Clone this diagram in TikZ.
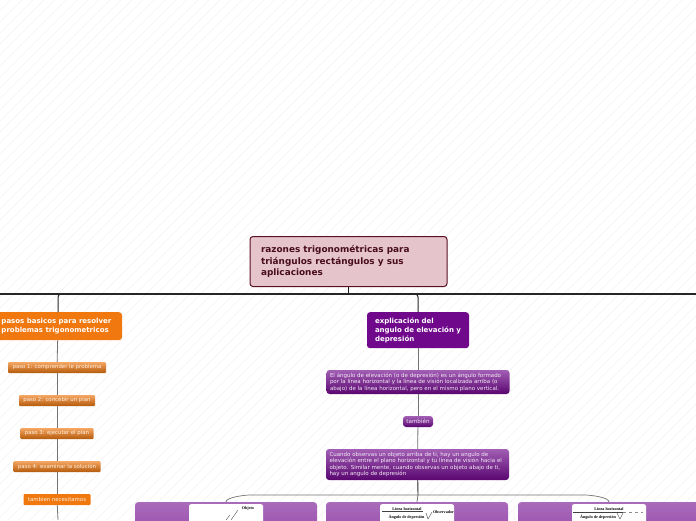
\documentclass[tikz,border=0pt]{standalone}
\usepackage{fontspec}
\setmainfont{DejaVu Sans}
\newfontfamily\imgfont{Liberation Serif}
\usepackage{xcolor}
\usetikzlibrary{positioning, arrows.meta, calc}
\definecolor{rootfill}{HTML}{E5C5CB}
\definecolor{rootline}{HTML}{5A0F24}
\definecolor{naranja}{HTML}{F0780F}
\definecolor{morado}{HTML}{70088C}
\definecolor{hatch}{HTML}{F1F1F1}
\tikzset{
    raiz/.style={draw=rootline, line width=1pt, fill=rootfill, rounded corners=3pt, anchor=north,
        minimum width=197pt, minimum height=50pt, inner sep=0pt, text=rootline!80!black,
        font=\fontsize{8.9}{11.2}\selectfont\bfseries, align=left},
    jefe/.style={rounded corners=3pt, text=white, inner sep=0pt, align=left,
        font=\fontsize{7}{9}\selectfont\bfseries},
    pasobox/.style={rounded corners=1pt, text=white!88!orange, inner sep=0pt, minimum height=11pt,
        top color=#1!65!white, bottom color=#1!75!black, font=\fontsize{5.4}{7}\selectfont},
    parrafo/.style={rounded corners=3pt, text=white!92!morado, inner sep=0pt, align=left,
        top color=morado!65!white, bottom color=morado!80!black, font=\fontsize{5.5}{6.4}\selectfont},
    cajafoto/.style={rounded corners=3pt, anchor=north, minimum width=182pt, minimum height=40pt,
        top color=morado!60!white, bottom color=morado!75!white},
    foto/.style={fill=white, rounded corners=2pt, anchor=north, minimum width=74pt, minimum height=40pt, inner sep=0pt},
    mini/.style={font=\imgfont\fontsize{4.1}{4.5}\selectfont\bfseries, inner sep=0pt},
    trazo/.style={line width=0.35pt, black!75},
    rama/.style={line width=0.8pt, black!55},
    bus/.style={line width=1.1pt, black!85}
}
\begin{document}
\begin{tikzpicture}[x=1pt, y=1pt, node distance=33pt]
    \useasboundingbox (0,0) rectangle (696,-520);
    \clip (0,0) rectangle (696,-520);
    \foreach \k in {0,11,...,1220} {
        \draw[hatch, line width=0.4pt] (\k-520,-520) -- (\k,0);
    }

    \node (raiz) [raiz] at (348.5,-236) {\hspace{5pt}\parbox{180pt}{razones trigonométricas para\\triángulos rectángulos y sus\\aplicaciones}};
    \coordinate (busizq) at (0,-294);
    \coordinate (busder) at (696,-294);
    \coordinate (buscentro) at (348.5,-294);

    % rama izquierda
    \node (pasos) [jefe, fill=naranja, anchor=north, minimum width=128pt, minimum height=28pt] at (58,-312) {\hspace{7pt}\parbox{120pt}{pasos basicos para resolver\\problemas trigonometricos}};
    \node (paso1) [pasobox=naranja, minimum width=98pt] at (57,-367.5) {paso 1: comprender le problema};
    \node (paso2) [pasobox=naranja, minimum width=76pt, below of=paso1] {paso 2: concebir un plan};
    \node (paso3) [pasobox=naranja, minimum width=73pt, below of=paso2] {paso 3: ejecutar el plan};
    \node (paso4) [pasobox=naranja, minimum width=87pt, below of=paso3] {paso 4: examinar la solución};
    \node (tambien1) [rounded corners=1pt, fill=naranja, text=white!88!orange, inner sep=0pt, minimum height=11pt, minimum width=67pt, font=\fontsize{5.4}{7}\selectfont, below of=paso4] {tambien necesitamos};
    \coordinate (finizq) at (58,-520);

    % rama central
    \node (explica) [jefe, fill=morado, anchor=north, minimum width=102pt, minimum height=36pt] at (418,-312) {\parbox{86pt}{explicación del\\angulo de elevación y\\depresión}};
    \node (def) [parrafo, minimum width=183pt, minimum height=24pt] at (418,-382) {\parbox{176pt}{El ángulo de elevación (o de depresión) es un ángulo formado\\por la línea horizontal y la línea de visión localizada arriba (o\\abajo) de la línea horizontal, pero en el mismo plano vertical.}};
    \node (tambien2) [parrafo, minimum width=30pt, minimum height=11pt, font=\fontsize{5.6}{7}\selectfont] at (418,-421.5) {también};
    \node (cuando) [parrafo, minimum width=183pt, minimum height=31pt] at (417.5,-464.5) {\parbox{176pt}{Cuando observas un objeto arriba de ti, hay un angulo de\\elevación entre el plano horizontal y tu línea de visión hacia el\\objeto. Similar mente, cuando observas un objeto abajo de ti,\\hay un angulo de depresión}};
    \coordinate (ramal) at (418,-495);

    \node (caja1) [cajafoto] at (226,-502) {};
    \node (caja2) [cajafoto] at (417,-502) {};
    \node (caja3) [cajafoto] at (609,-502) {};
    \node (foto1) [foto] at (226,-504) {};
    \node (foto2) [foto] at (417,-504) {};
    \node (foto3) [foto] at (609,-504) {};

    \node (objeto) [mini] at (248,-509) {Objeto};
    \draw[trazo] (238,-510) -- (231,-520);
    \draw[trazo] (230,-515) -- (226,-520);

    \node (linea2) [mini] at (407,-509) {Línea horizontal};
    \node (observa) [mini] at (443.5,-512) {Observador};
    \node (angulo2) [mini] at (406.5,-517) {Ángulo de depresión};
    \draw[trazo] (382,-511) -- (423,-511);
    \draw[trazo] (426,-513) -- (428,-519) -- (432,-512);

    \node (linea3) [mini] at (609,-509) {Línea horizontal};
    \node (angulo3) [mini] at (598,-517) {Ángulo de depresión};
    \draw[trazo] (573,-512) -- (623,-512);
    \draw[trazo, black!45, dashed] (623,-512) -- (643,-512);
    \draw[trazo] (617,-513) -- (620,-519) -- (623,-513);

    % conectores
    \draw[bus] (busizq) -- (busder);
    \draw[line width=1.8pt, black!90] (raiz) -- (buscentro);
    \draw[line width=1pt, black!85, rounded corners=3pt] (buscentro) -| (pasos.north);
    \draw[line width=1pt, black!85, rounded corners=3pt] (buscentro) -| (explica.north);
    \draw[rama] (pasos) -- (paso1);
    \draw[rama] (paso1) -- (paso2);
    \draw[rama] (paso2) -- (paso3);
    \draw[rama] (paso3) -- (paso4);
    \draw[rama] (paso4) -- (tambien1);
    \draw[rama] (tambien1) -- (finizq);
    \draw[rama] (explica) -- (def);
    \draw[rama] (def) -- (tambien2);
    \draw[rama] (tambien2) -- (cuando);
    \draw[line width=0.9pt, black!85] (cuando) -- (ramal);
    \draw[line width=0.7pt, black!55] (caja1.north) to[out=90, in=180, looseness=0.5] ++(24,7) -- (ramal);
    \draw[line width=0.7pt, black!55] (caja3.north) to[out=90, in=0, looseness=0.5] ++(-24,7) -- (ramal);
    \draw[rama] (ramal) -- (caja2.north);
\end{tikzpicture}
\end{document}
